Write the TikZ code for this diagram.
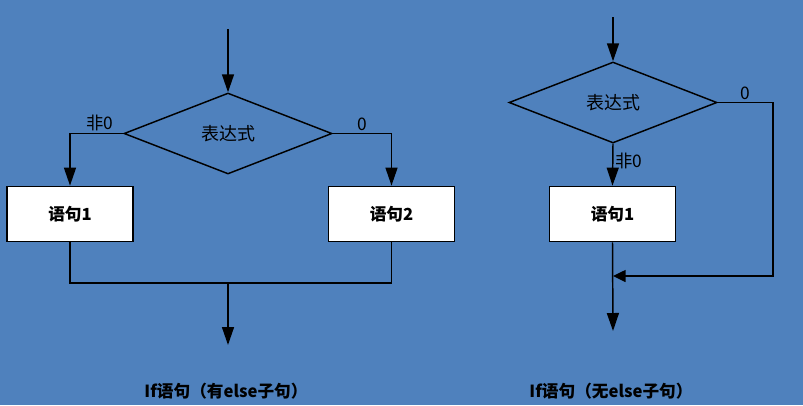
\documentclass[tikz,border=0pt]{standalone}
\usepackage{fontspec}
\setmainfont{Noto Sans CJK SC}
\usepackage{tikz}
\usetikzlibrary{arrows.meta,positioning,shapes.geometric}
\definecolor{bgblue}{HTML}{4F81BD}
\tikzset{
  ar/.style={-{Triangle[length=13.5pt,width=9pt]},line width=1.1pt},
  arl/.style={-{Triangle[length=9.5pt,width=9pt]},line width=1.1pt},
  ln/.style={line width=1.1pt},
  cond/.style={draw,diamond,line width=1.1pt,minimum width=156pt,minimum height=60.75pt,inner sep=0pt,font=\fontsize{13.5}{15}\selectfont},
  stmt/.style={draw,fill=white,line width=1.1pt,minimum width=94.5pt,minimum height=41.5pt,inner sep=0pt,font=\fontsize{12.5}{14}\selectfont\bfseries},
  lab/.style={font=\fontsize{13}{14}\selectfont,inner sep=1.5pt},
  captxt/.style={font=\fontsize{12.5}{14}\selectfont\bfseries}
}

\begin{document}
\begin{tikzpicture}[x=0.75pt,y=-0.75pt]
\fill[bgblue] (0,0) rectangle (803,405);
\useasboundingbox (0,0) rectangle (803,405);
% with else
\coordinate (in1) at (228,29);
\node[cond] (e1) at (228,133.5) {表达式};
\node[stmt] (s1) at (70,214) {语句1};
\node[stmt] (s2) at (391.5,214) {语句2};
\coordinate (j1) at (228,283);
\coordinate (out1) at (228,345);
\draw[ar] (in1) -- (e1.north);
\draw[ar] (e1.west) -| node[lab,pos=0.22,above]{非0} (s1.north);
\draw[ar] (e1.east) -| node[lab,pos=0.25,above]{0} (s2.north);
\draw[ln] (s1.south) |- (j1) -| (s2.south);
\draw[ar] (j1) -- (out1);
% without else
\coordinate (in2) at (613,17);
\node[cond] (e2) at (613,102.5) {表达式};
\node[stmt] (s3) at (612.5,214) {语句1};
\coordinate (r2) at (773,102.5);
\coordinate (j2) at (613,276);
\coordinate (out2) at (613,331);
\draw[ar] (in2) -- (e2.north);
\draw[ar] (e2.south) -- node[lab,pos=0.4,right]{非0} (s3.north);
\draw[arl] (e2.east) -- node[lab,above]{0} (r2) |- (j2);
\draw[ar] (s3.south) -- (out2);
% captions
\node[captxt] (c1) at (226,391) {If语句（有else子句）};
\node[captxt] (c2) at (611,391) {If语句（无else子句）};
\end{tikzpicture}
\end{document}
